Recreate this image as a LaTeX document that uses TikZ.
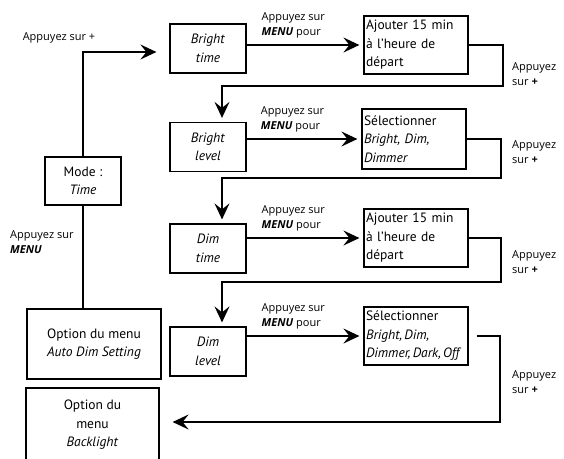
\documentclass[tikz,border=0pt]{standalone}
\usepackage{fontspec}
\setmainfont{PT Sans}
\newfontfamily\lblfont{Open Sans}
\usetikzlibrary{arrows.meta}
\usetikzlibrary{positioning,calc}

\begin{document}
\begin{tikzpicture}[x=1pt,y=-1pt]
  \tikzset{box/.style = {shape=rectangle,draw,line width=1.2pt,inner sep=2pt,font=\fontsize{13.5}{18.5}\selectfont,align=center}}
  \tikzset{statebox/.style = {box,minimum width=76pt,minimum height=49pt}}
  \tikzset{actbox/.style = {box,minimum width=104pt,minimum height=58pt,text width=100pt,align=left}}
  \tikzset{menubox/.style = {box,minimum width=134pt,minimum height=70pt}}
  \tikzset{lbl/.style = {font=\lblfont\fontsize{11}{15.5}\selectfont,align=left,inner sep=0pt}}
  \tikzset{edge/.style = {-tipA,line width=1.6pt}}
  \tikzset{%
  tipA/.tip={Stealth[length=16pt,width=15pt,inset=6pt]},
}
  \useasboundingbox (0,0) rectangle (564,458);
  \clip (0,0) rectangle (564,458);

	\node[statebox] (bt) at (208,48.5) {\textit{Bright}\\\textit{time}};
	\node[statebox] (bl) at (208,147) {\textit{Bright}\\\textit{level}};
	\node[statebox] (dt) at (208,248.5) {\textit{Dim}\\\textit{time}};
	\node[statebox] (dl) at (208,351.5) {\textit{Dim}\\\textit{level}};

	\node[actbox] (aj1) at (416,45) {Ajouter 15 min\\à l'heure de\\départ};
	\node[actbox,minimum height=60pt] (sel1) at (414,139) {Sélectionner\\\textit{Bright, Dim,}\\\textit{Dimmer}};
	\node[actbox] (aj2) at (416,238) {Ajouter 15 min\\à l'heure de\\départ};
	\node[actbox] (sel2) at (416,336) {Sélectionner\\\textit{Bright,\,Dim,}\\\textit{Dimmer,\,Dark,\,Off}};

	\node[statebox,minimum height=48pt] (mode) at (83,181) {Mode :\\\textit{Time}};
	\node[menubox] (auto) at (94,344) {Option du menu\\\textit{Auto Dim Setting}};
	\node[menubox,minimum width=133pt,minimum height=74pt] (back) at (92.5,425) {Option du\\menu\\\textit{Backlight}};

	\node[lbl] (lplus) at (59,38) {Appuyez sur +};
	\node[lbl,anchor=west] (lmenu) at (10,242) {Appuyez sur\\\textbf{\textit{MENU}}};
	\node[lbl,anchor=west] (p1) at (512,74) {Appuyez\\sur \textbf{+}};
	\node[lbl,anchor=west] (p2) at (512,152) {Appuyez\\sur \textbf{+}};
	\node[lbl,anchor=west] (p3) at (512,262) {Appuyez\\sur \textbf{+}};
	\node[lbl,anchor=west] (p4) at (512,382) {Appuyez\\sur \textbf{+}};

	\coordinate (r1) at (503,86);
	\coordinate (r2) at (501,178);
	\coordinate (r3) at (501,282);
	\coordinate (r4) at (500,422);

    \foreach \from/\to in {bt/aj1, bl/sel1, dt/aj2, dl/sel2}
    \draw[edge,shorten >=4pt] (\from.east |- \to.west) -- node[lbl,above=6pt,pos=0.4] (m\to) {Appuyez sur\\\textbf{\textit{MENU}} pour} (\to.west);

    \foreach \from/\to/\r in {aj1/bl/r1, sel1/dt/r2, aj2/dl/r3}
    \draw[edge,shorten >=4pt] (\from.east) -| (\r) -| ([xshift=14pt]\to.north);

    \draw[edge,shorten <=8pt,shorten >=13pt] (sel2.east) -| (r4) -- (back.east |- r4);
    \draw[edge,shorten >=13pt] (mode.north) |- ([yshift=-3.5pt]bt.west);
    \draw[line width=1.6pt] (mode.south) -- (mode.south |- auto.north);

\end{tikzpicture}
\end{document}
